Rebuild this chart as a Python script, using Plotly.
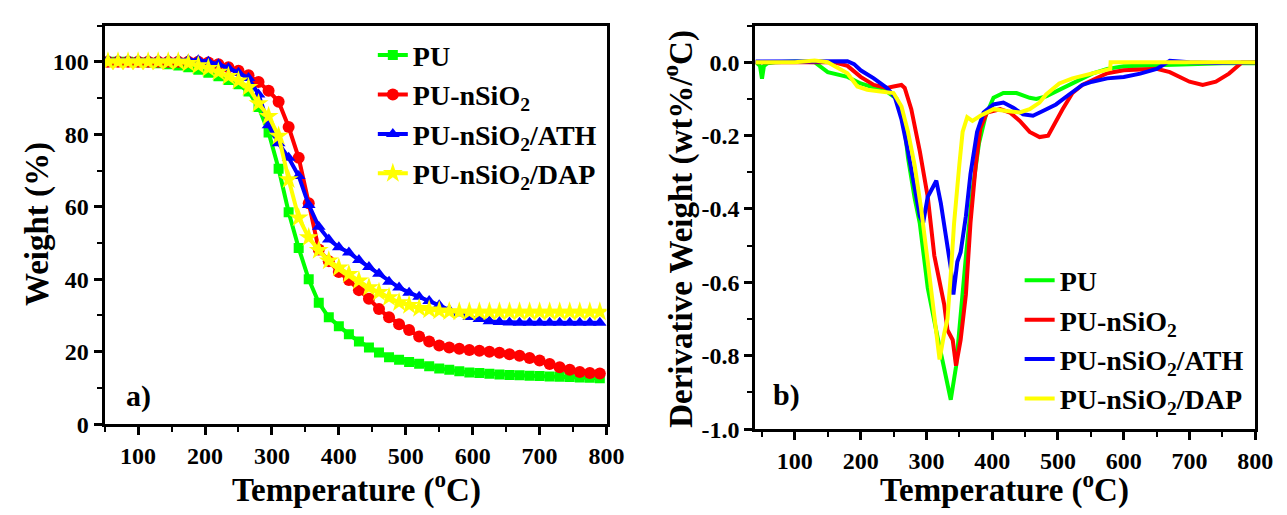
import plotly.graph_objects as go

# ---------------- data: TGA (panel a) ----------------
T_tga = [55, 70, 85, 100, 115, 130, 145, 160, 175, 190, 205, 220, 235, 250, 265,
         280, 295, 310, 325, 340, 355, 370, 385, 400, 415, 430, 445, 460, 475, 490,
         505, 520, 535, 550, 565, 580, 595, 610, 625, 640, 655, 670, 685, 700, 715,
         730, 745, 760, 775, 790]
w_pu = [100, 100, 100, 99.9, 99.8, 99.6, 99.3, 99.0, 98.5, 97.8, 97.0, 96.0, 95.0, 93.8, 91.8,
        87.5, 80.5, 70.5, 58.5, 48.6, 40.0, 33.5, 29.5, 27.0, 24.8, 22.8, 21.2, 19.8, 18.5, 17.8,
        17.2, 16.7, 16.0, 15.4, 15.0, 14.6, 14.3, 14.1, 13.9, 13.7, 13.6, 13.5, 13.4, 13.3, 13.2,
        13.1, 13.0, 12.9, 12.8, 12.7]
w_si = [100, 100, 100, 100, 100, 100, 100, 100, 100, 100, 99.8, 99.3, 98.5, 97.5, 96.3,
        94.4, 92.0, 89.0, 82.0, 73.5, 61.0, 48.2, 45.0, 42.0, 39.8, 37.0, 34.6, 31.8, 29.5, 27.6,
        26.0, 24.2, 22.8, 21.7, 21.2, 20.8, 20.5, 20.3, 20.0, 19.7, 19.3, 18.9, 18.3, 17.6, 16.6,
        15.7, 15.0, 14.4, 14.1, 14.0]
w_ath = [100.5, 100.5, 100.5, 100.5, 100.5, 100.5, 100.5, 100.5, 100.5, 100.4, 100.0, 99.3, 98.3, 97.0, 95.5,
         91.0, 82.5, 77.5, 73.5, 68.5, 60.5, 54.5, 51.0, 48.8, 47.4, 45.3, 43.4, 41.5, 39.3, 37.7,
         36.3, 35.2, 34.0, 32.8, 31.5, 30.6, 29.6, 29.0, 28.4, 28.2, 28.1, 28.0, 28.0, 28.0, 28.0,
         28.0, 28.0, 28.0, 28.0, 28.0]
w_dap = [100, 100, 100, 100, 100, 100, 100, 100, 99.6, 99.0, 98.2, 97.2, 96.0, 94.8, 93.0,
         88.5, 85.0, 79.5, 67.5, 57.0, 51.5, 48.0, 45.1, 43.2, 41.4, 39.6, 37.7, 36.4, 35.0, 33.6,
         32.8, 32.0, 31.6, 31.3, 31.1, 31.0, 31.0, 31.0, 31.0, 31.0, 31.0, 31.0, 31.0, 31.0, 31.0,
         31.0, 31.0, 31.0, 31.0, 31.0]

# ---------------- data: DTG (panel b) ----------------
T_d_pu = [41, 47, 50, 53, 58, 70, 100, 130, 150, 180, 200, 220, 240, 255, 265, 272, 282, 290,
          302, 317, 327, 337, 345, 352, 360, 370, 380, 390, 402, 417, 437, 457, 467, 482, 502,
          522, 552, 575, 600, 650, 700, 750, 800]
d_pu = [0, -0.01, -0.045, -0.01, -0.003, 0, 0.002, 0, -0.027, -0.04, -0.058, -0.07, -0.08, -0.1,
        -0.15, -0.26, -0.37, -0.44, -0.615, -0.75, -0.836, -0.92, -0.83, -0.68, -0.53, -0.35,
        -0.22, -0.146, -0.097, -0.084, -0.084, -0.097, -0.10, -0.093, -0.075, -0.057, -0.031,
        -0.018, -0.011, -0.008, -0.005, -0.003, -0.003]
T_d_si = [40, 100, 160, 180, 200, 220, 240, 250, 262, 267, 277, 290, 302, 312, 322, 327, 332,
          340, 345, 352, 360, 367, 375, 382, 392, 412, 427, 442, 457, 472, 485, 492, 507, 522,
          537, 552, 575, 600, 650, 670, 700, 720, 740, 760, 780, 800]
d_si = [0, 0, 0, -0.01, -0.04, -0.062, -0.07, -0.066, -0.062, -0.07, -0.128, -0.243, -0.367,
        -0.527, -0.615, -0.66, -0.73, -0.757, -0.827, -0.757, -0.633, -0.438, -0.28, -0.18,
        -0.137, -0.128, -0.137, -0.16, -0.19, -0.204, -0.2, -0.177, -0.128, -0.084, -0.062,
        -0.049, -0.03, -0.022, -0.018, -0.027, -0.053, -0.062, -0.053, -0.031, 0, 0]
T_d_ath = [40, 100, 150, 180, 190, 200, 220, 240, 252, 262, 272, 282, 290, 295, 302, 310, 315,
           322, 330, 337, 341, 347, 352, 360, 367, 377, 387, 402, 417, 432, 447, 462, 477, 497,
           517, 537, 552, 575, 600, 625, 650, 670, 700, 740, 800]
d_ath = [0.002, 0.002, 0.002, 0.003, -0.005, -0.022, -0.044, -0.07, -0.095, -0.155, -0.243,
         -0.35, -0.42, -0.438, -0.367, -0.34, -0.323, -0.385, -0.473, -0.56, -0.633, -0.544,
         -0.518, -0.42, -0.305, -0.19, -0.137, -0.115, -0.11, -0.124, -0.142, -0.146, -0.133,
         -0.115, -0.088, -0.062, -0.053, -0.044, -0.04, -0.031, -0.018, 0.004, 0, -0.002, 0]
T_d_dap = [40, 100, 130, 150, 160, 180, 195, 210, 230, 250, 262, 272, 282, 292, 302, 310, 315,
           320, 327, 332, 337, 342, 350, 355, 362, 370, 382, 402, 422, 442, 457, 472, 482, 502,
           522, 542, 560, 579.5, 580, 600, 700, 800]
d_dap = [0, 0, 0.005, 0, -0.01, -0.03, -0.066, -0.075, -0.08, -0.084, -0.12, -0.19, -0.28,
         -0.40, -0.544, -0.66, -0.74, -0.81, -0.74, -0.70, -0.58, -0.44, -0.28, -0.19, -0.15,
         -0.16, -0.146, -0.128, -0.133, -0.137, -0.128, -0.11, -0.088, -0.058, -0.044, -0.035,
         -0.027, -0.018, 0, 0, 0, 0]

names = ["PU", "PU-nSiO<sub>2</sub>", "PU-nSiO<sub>2</sub>/ATH", "PU-nSiO<sub>2</sub>/DAP"]
colors = ["#00FF00", "#FF0000", "#0000FF", "#FFFF00"]
symbols = ["square", "circle", "triangle-up", "star"]
msizes = [10, 12, 12, 15]

x_tickvals = [100, 200, 300, 400, 500, 600, 700, 800]
x_ticktext = ["100", "200", "300", "400", "500", "600", "700", "800"]
ya_tickvals = [0, 20, 40, 60, 80, 100]
ya_ticktext = ["0", "20", "40", "60", "80", "100"]
yb_tickvals = [0.0, -0.2, -0.4, -0.6, -0.8, -1.0]
yb_ticktext = ["0.0", "-0.2", "-0.4", "-0.6", "-0.8", "-1.0"]

FONT = "Liberation Serif"

fig = go.Figure()

tga = [w_pu, w_si, w_ath, w_dap]
for i in range(4):
    fig.add_trace(go.Scatter(
        x=T_tga, y=tga[i], mode="lines+markers", name=names[i],
        line=dict(color=colors[i], width=4),
        marker=dict(symbol=symbols[i], size=msizes[i], color=colors[i], line=dict(width=0)),
        xaxis="x", yaxis="y", legend="legend"))

dtg_T = [T_d_pu, T_d_si, T_d_ath, T_d_dap]
dtg = [d_pu, d_si, d_ath, d_dap]
for i in range(4):
    fig.add_trace(go.Scatter(
        x=dtg_T[i], y=dtg[i], mode="lines", name=names[i],
        line=dict(color=colors[i], width=4),
        xaxis="x2", yaxis="y2", legend="legend2"))

tickfont = dict(family=FONT, size=24, color="black", weight="bold")
common = dict(showline=True, linecolor="black", linewidth=3, mirror=True,
              ticks="outside", ticklen=8, tickwidth=2.5, tickcolor="black",
              showgrid=False, zeroline=False, tickfont=tickfont)

fig.update_layout(
    width=1287, height=515,
    margin=dict(l=0, r=0, t=0, b=0),
    paper_bgcolor="white", plot_bgcolor="white",
    xaxis=dict(domain=[98 / 1287, 607 / 1287], range=[50, 800], tickmode="array",
               tickvals=x_tickvals, ticktext=x_ticktext, anchor="y",
               minor=dict(tickmode="linear", tick0=50, dtick=100, ticks="outside",
                          ticklen=5, tickwidth=2, tickcolor="black"), **common),
    yaxis=dict(domain=[1 - 427 / 515, 1 - 18 / 515], range=[0, 110], tickmode="array",
               tickvals=ya_tickvals, ticktext=ya_ticktext, anchor="x",
               minor=dict(tickmode="linear", tick0=10, dtick=20, ticks="outside",
                          ticklen=5, tickwidth=2, tickcolor="black"), **common),
    xaxis2=dict(domain=[758 / 1287, 1265 / 1287], range=[40, 800], tickmode="array",
                tickvals=x_tickvals, ticktext=x_ticktext, anchor="y2",
                minor=dict(tickmode="linear", tick0=50, dtick=100, ticks="outside",
                           ticklen=5, tickwidth=2, tickcolor="black"), **common),
    yaxis2=dict(domain=[1 - 432 / 515, 1 - 18 / 515], range=[-1.0, 0.1], tickmode="array",
                tickvals=yb_tickvals, ticktext=yb_ticktext, anchor="x2",
                minor=dict(tickmode="linear", tick0=-0.1, dtick=0.2, ticks="outside",
                           ticklen=5, tickwidth=2, tickcolor="black"), **common),
    legend=dict(x=370 / 1287, y=1 - 23 / 515, xanchor="left", yanchor="top",
                bgcolor="rgba(0,0,0,0)", borderwidth=0, tracegroupgap=0,
                font=dict(family=FONT, size=28, color="black", weight="bold")),
    legend2=dict(x=1026 / 1287, y=1 - 254 / 515, xanchor="left", yanchor="top",
                 bgcolor="rgba(0,0,0,0)", borderwidth=0,
                 font=dict(family=FONT, size=28, color="black", weight="bold")),
    showlegend=True,
)

title_font = dict(family=FONT, size=33, color="black", weight="bold")
fig.add_annotation(text="Temperature (<sup>o</sup>C)", x=353 / 1287, y=1 - 492 / 515,
                   xref="paper", yref="paper", showarrow=False, font=title_font,
                   xanchor="center", yanchor="middle")
fig.add_annotation(text="Temperature (<sup>o</sup>C)", x=1011 / 1287, y=1 - 492 / 515,
                   xref="paper", yref="paper", showarrow=False, font=title_font,
                   xanchor="center", yanchor="middle")
fig.add_annotation(text="Weight (%)", x=30 / 1287, y=1 - 222 / 515, textangle=-90,
                   xref="paper", yref="paper", showarrow=False, font=title_font,
                   xanchor="center", yanchor="middle")
fig.add_annotation(text="Derivative Weight (wt%/<sup>o</sup>C)", x=680 / 1287, y=1 - 226 / 515,
                   textangle=-90, xref="paper", yref="paper", showarrow=False, font=title_font,
                   xanchor="center", yanchor="middle")
label_font = dict(family=FONT, size=30, color="black", weight="bold")
fig.add_annotation(text="a)", x=132 / 1287, y=1 - 398 / 515, xref="paper", yref="paper",
                   showarrow=False, font=label_font, xanchor="center", yanchor="middle")
fig.add_annotation(text="b)", x=790 / 1287, y=1 - 397 / 515, xref="paper", yref="paper",
                   showarrow=False, font=label_font, xanchor="center", yanchor="middle")

fig.write_html("out.html")
